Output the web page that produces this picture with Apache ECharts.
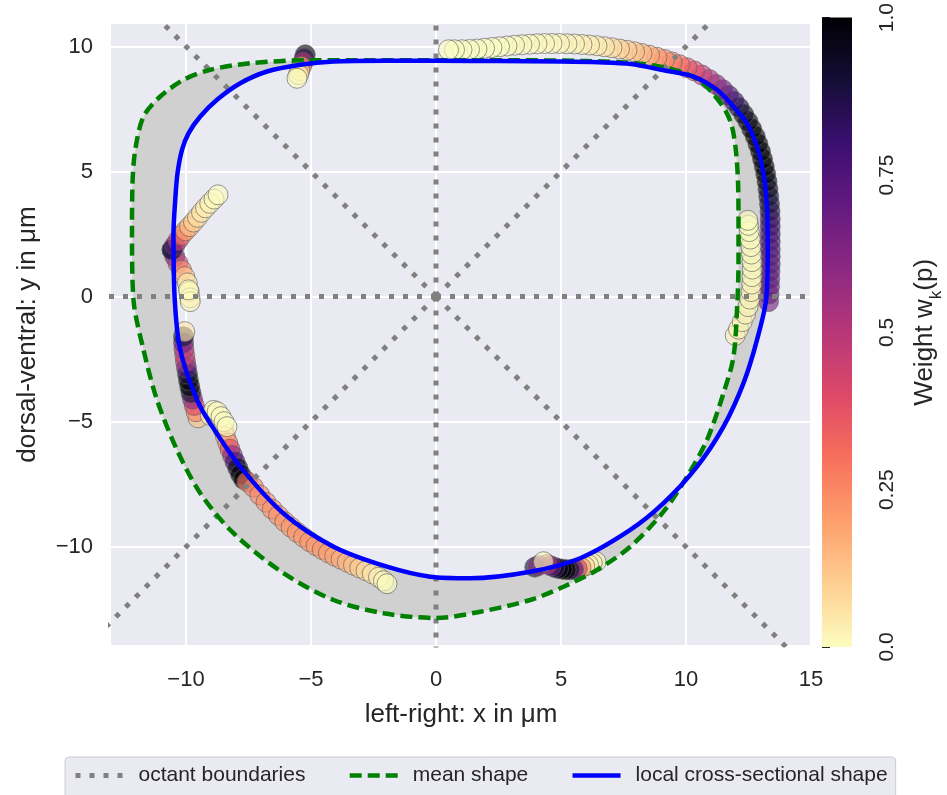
<!DOCTYPE html>
<html>
<head>
<meta charset="utf-8">
<title>local cross-sectional shape</title>
<script src="https://cdn.jsdelivr.net/npm/echarts@6/dist/echarts.min.js"></script>
<style>
    html, body { margin: 0; padding: 0; background: #fff; }
    #main { width: 947px; height: 795px; }
</style>
</head>
<body>
<div id="main"></div>
<script>
'use strict';

// tick positions
var xTicks = [-10, -5, 0, 5, 10, 15];
var yTicks = [-10, -5, 0, 5, 10];
var weightTicks = [0, 0.25, 0.5, 0.75, 1];

// octant boundaries: rays from the origin
var octantEnds = [[20, 0], [20, 20], [0, 20], [-20, 20], [-20, 0], [-20, -20], [0, -20], [20, -20]];

// mean shape (clockwise from top)
var meanX = [0, 3, 6, 8, 9.1, 10.0, 10.6, 11.1, 11.6, 11.84, 12.0, 12.08, 12.1, 12.1, 12.06, 11.9, 11.5, 10.84, 10.04, 9.1,
    7.77, 6.44, 5.1, 3.77, 1.77, 0, -2.1, -4.1, -6.1, -8.1, -9.43, -10.36, -11.16, -11.7, -12.1, -12.16, -12.14, -12.03,
    -11.7, -11.03, -10.1, -9.03, -7.43, -5.16, -2.5, 0];
var meanY = [9.45, 9.45, 9.42, 9.33, 9.17, 8.92, 8.6, 8.1, 7.4, 6.8, 5.8, 4.6, 3.2, 1.5, -0.1, -2.4, -3.86, -5.73, -7.2, -8.6,
    -10.0, -10.93, -11.6, -12.13, -12.6, -12.85, -12.66, -12.13, -11.06, -9.46, -7.86, -6.13, -4.13, -2.13, -0.13, 2.53, 4.53, 5.87,
    7.2, 8.0, 8.67, 9.07, 9.33, 9.45, 9.45, 9.45];

// local cross-sectional shape (clockwise from top)
var localX = [0, 2.5, 5, 6.5, 7.8, 9, 10.3, 11.24, 11.9, 12.44, 12.84, 13.1, 13.24, 13.27, 13.22, 12.84, 12.3, 11.5, 10.44, 9.1,
    7.77, 5.77, 3.77, 1.37, -0.23, -1.96, -4.1, -6.1, -7.83, -9.03, -9.56, -10.23, -10.45, -10.5, -10.43, -10.34, -10.16, -9.9,
    -9.43, -8.76, -7.83, -6.76, -5.43, -4.1, -2, 0];
var localY = [9.43, 9.42, 9.4, 9.37, 9.3, 9.07, 8.8, 8.27, 7.6, 6.93, 6.0, 4.93, 3.6, 2, 0, -1.73, -3.46, -5.2, -6.8, -8.26,
    -9.33, -10.46, -11.0, -11.26, -11.2, -10.8, -10.0, -8.67, -6.8, -5.07, -4.13, -2.13, -0.13, 2.53, 3.87, 4.93, 5.87, 6.53,
    7.2, 7.87, 8.53, 9.0, 9.27, 9.4, 9.43, 9.43];

// weighted points, one group per track, in drawing order
var arcX = [13.30, 13.32, 13.34, 13.35, 13.36, 13.37, 13.37, 13.37, 13.37, 13.37, 13.37, 13.37, 13.36, 13.34, 13.31, 13.28,
    13.24, 13.19, 13.13, 13.06, 12.98, 12.88, 12.77, 12.63, 12.48, 12.31, 12.13, 11.93, 11.71, 11.47, 11.21, 10.93, 10.64,
    10.34, 10.04, 9.74, 9.44, 9.14, 8.84, 8.54, 8.24, 7.94, 7.64, 7.34, 7.04, 6.74, 6.44, 6.14, 5.84, 5.54, 5.24, 4.94, 4.64,
    4.34, 4.04, 3.74, 3.44, 3.14, 2.84, 2.54, 2.24, 1.94, 1.64, 1.34, 1.04, 0.74, 0.50];
var arcY = [-0.20, 0.10, 0.40, 0.70, 1.00, 1.30, 1.60, 1.90, 2.20, 2.50, 2.80, 3.10, 3.40, 3.70, 4.00, 4.30, 4.60, 4.90,
    5.20, 5.50, 5.80, 6.10, 6.40, 6.70, 7.00, 7.28, 7.55, 7.80, 8.04, 8.27, 8.48, 8.68, 8.86, 9.02, 9.15, 9.27, 9.38, 9.48,
    9.57, 9.65, 9.72, 9.79, 9.85, 9.90, 9.95, 9.99, 10.03, 10.06, 10.08, 10.10, 10.11, 10.12, 10.12, 10.12, 10.11, 10.09,
    10.07, 10.05, 10.02, 9.99, 9.96, 9.93, 9.90, 9.88, 9.87, 9.87, 9.87];
var arcW = [0.66, 0.68, 0.70, 0.71, 0.72, 0.73, 0.74, 0.75, 0.76, 0.78, 0.80, 0.82, 0.85, 0.88, 0.90, 0.93, 0.96, 0.98,
    1, 1, 1, 1, 1, 1, 0.98, 0.95, 0.9, 0.83, 0.76, 0.68, 0.6, 0.53, 0.47, 0.41, 0.36, 0.31, 0.27, 0.24, 0.21, 0.18, 0.15,
    0.13, 0.11, 0.09, 0.07, 0.05, 0.04, 0.03, 0.03, 0.02, 0.02, 0.02, 0.01, 0.01, 0.01, 0.01, 0.01, 0.01, 0.01, 0, 0, 0,
    0, 0, 0, 0, 0];

var rightX = [11.97, 12.1, 12.25, 12.38, 12.48, 12.55, 12.6, 12.63, 12.64, 12.65, 12.64, 12.62, 12.6, 12.57, 12.53, 12.5, 12.47];
var rightY = [-1.55, -1.3, -1.0, -0.7, -0.4, -0.1, 0.2, 0.5, 0.8, 1.1, 1.4, 1.7, 2.0, 2.3, 2.6, 2.85, 3.05];
var rightW = [0.03, 0.02, 0.02, 0.02, 0.02, 0.02, 0.02, 0.02, 0.01, 0.01, 0.01, 0.01, 0.01, 0, 0, 0, 0];

var topLeftX = [-5.23, -5.27, -5.32, -5.38, -5.45, -5.5, -5.56];
var topLeftY = [9.67, 9.52, 9.37, 9.2, 9.03, 8.88, 8.73];
var topLeftW = [1, 0.85, 0.5, 0.2, 0.08, 0.03, 0];

var leftLowX = [-10.56, -10.45, -10.32, -10.18, -10.05, -9.95, -9.87, -9.84, -9.83, -9.9];
var leftLowY = [1.87, 1.6, 1.33, 1.06, 0.8, 0.55, 0.2, -0.05, -0.2, 0.27];
var leftLowW = [0.95, 0.7, 0.45, 0.25, 0.12, 0.05, 0.02, 0.02, 0.02, 0];

var leftUpX = [-10.56, -10.45, -10.32, -10.18, -10.02, -9.86, -9.7, -9.54, -9.38, -9.22, -9.05, -8.88, -8.72];
var leftUpY = [1.87, 2.05, 2.25, 2.45, 2.63, 2.8, 2.98, 3.17, 3.37, 3.55, 3.73, 3.9, 4.07];
var leftUpW = [0.9, 0.7, 0.45, 0.3, 0.2, 0.14, 0.1, 0.07, 0.05, 0.03, 0.02, 0.01, 0];

var sideX = [-9.52, -9.6, -9.67, -9.74, -9.8, -9.85, -9.9, -9.94, -9.98, -10.02, -10.05, -10.08, -10.1, -10.1, -10.05];
var sideY = [-4.85, -4.6, -4.35, -4.1, -3.85, -3.6, -3.35, -3.1, -2.85, -2.6, -2.35, -2.1, -1.85, -1.6, -1.4];
var sideW = [0.12, 0.25, 0.4, 0.6, 0.9, 1, 1, 0.9, 0.75, 0.55, 0.45, 0.5, 0.7, 0.9, 0.05];

var bendX = [-8.5, -8.42, -8.33, -8.24, -8.14, -8.04, -7.93, -7.82, -7.7];
var bendY = [-5.35, -5.6, -5.85, -6.1, -6.35, -6.6, -6.85, -7.1, -7.3];
var bendW = [0.08, 0.15, 0.25, 0.4, 0.6, 0.8, 0.95, 1, 1];

var lowerX = [-7.55, -7.3, -7.05, -6.8, -6.55, -6.3, -6.05, -5.8, -5.55, -5.3, -5.05, -4.8, -4.55, -4.3, -4.05, -3.8, -3.55,
    -3.3, -3.05, -2.8, -2.55, -2.3, -2.1, -1.96];
var lowerY = [-7.4, -7.62, -7.93, -8.22, -8.5, -8.75, -9.0, -9.22, -9.43, -9.62, -9.8, -9.96, -10.11, -10.25, -10.38, -10.5,
    -10.62, -10.74, -10.85, -10.96, -11.08, -11.22, -11.36, -11.48];
var lowerW = [0.29, 0.27, 0.25, 0.24, 0.23, 0.23, 0.22, 0.22, 0.22, 0.22, 0.22, 0.21, 0.21, 0.2, 0.19, 0.17, 0.15, 0.13, 0.1,
    0.08, 0.05, 0.03, 0.01, 0];

var clusterX = [-9.03, -8.9, -8.75, -8.6, -8.48, -8.36];
var clusterY = [-4.75, -4.55, -4.6, -4.8, -5.0, -5.2];
var clusterW = [0.02, 0.01, 0.01, 0, 0, 0];

var bottomX = [6.4, 6.25, 6.1, 5.95, 5.8, 5.65, 5.5, 5.35, 5.2, 5.05, 4.9, 4.75, 4.6, 4.45, 3.95, 4.1, 4.3];
var bottomY = [-10.6, -10.66, -10.72, -10.78, -10.83, -10.87, -10.9, -10.92, -10.92, -10.9, -10.87, -10.83, -10.77, -10.7,
    -10.82, -10.75, -10.6];
var bottomW = [0, 0.02, 0.04, 0.08, 0.2, 0.45, 0.75, 0.9, 1, 1, 0.95, 0.85, 0.7, 0.5, 0.9, 0.6, 0];

// magma_r, weight 0 -> 1
var magmaR = ['#fcfdbf', '#fecf92', '#fe9f6d', '#f7705c', '#de4968', '#b73779', '#8c2981', '#641a80', '#3b0f70', '#140e36', '#000004'];

var FONT = "'Liberation Sans', Arial, sans-serif";
var INK = '#262626';

function zip3(xs, ys, ws) {
    return xs.map(function(x, i) { return [x, ys[i], ws[i]]; });
}

function minusFmt(v) {
    return v < 0 ? '\u2212' + (-v) : String(v);
}

var pointData = [].concat(
    zip3(arcX, arcY, arcW),
    zip3(rightX, rightY, rightW),
    zip3(topLeftX, topLeftY, topLeftW),
    zip3(leftLowX, leftLowY, leftLowW),
    zip3(leftUpX, leftUpY, leftUpW),
    zip3(sideX, sideY, sideW),
    zip3(bendX, bendY, bendW),
    zip3(lowerX, lowerY, lowerW),
    zip3(clusterX, clusterY, clusterW),
    zip3(bottomX, bottomY, bottomW)
);

var series = [];

octantEnds.forEach(function(end) {
    series.push({
        type: 'line',
        name: 'octant boundaries',
        data: [[0, 0], end],
        symbol: 'none',
        silent: true,
        lineStyle: {color: '#808080', width: 5, type: [5, 9], cap: 'butt'}
    });
});

// grey band between mean and local shape
series.push({
    type: 'custom',
    name: 'band',
    silent: true,
    data: [[0, 0]],
    renderItem: function(params, api) {
        var pts = [];
        var i;
        for (i = 0; i < meanX.length - 1; i++) {
            pts.push(api.coord([meanX[i], meanY[i]]));
        }
        for (i = localX.length - 2; i >= 0; i--) {
            pts.push(api.coord([localX[i], localY[i]]));
        }
        return {
            type: 'polygon',
            shape: {points: pts, smooth: 0.3},
            style: {fill: '#d0d0d0', stroke: null}
        };
    }
});

var scatterIndex = series.length;
series.push({
    type: 'scatter',
    name: 'weights',
    data: pointData,
    symbol: 'circle',
    symbolSize: 20,
    silent: true,
    itemStyle: {opacity: 0.62, borderColor: '#5a5a5a', borderWidth: 1}
});

series.push({
    type: 'line',
    name: 'mean shape',
    data: meanX.map(function(x, i) { return [x, meanY[i]]; }),
    symbol: 'none',
    smooth: 0.3,
    silent: true,
    lineStyle: {color: '#008000', width: 4.5, type: [12, 6], cap: 'butt'}
});

series.push({
    type: 'line',
    name: 'local cross-sectional shape',
    data: localX.map(function(x, i) { return [x, localY[i]]; }),
    symbol: 'none',
    smooth: 0.3,
    silent: true,
    lineStyle: {color: '#0000ff', width: 4.5}
});

// colour bar
series.push({
    type: 'custom',
    name: 'colorbar',
    xAxisIndex: 1,
    yAxisIndex: 1,
    silent: true,
    data: [[0, 0]],
    renderItem: function(params, api) {
        var p0 = api.coord([0, 1]);
        var p1 = api.coord([1, 0]);
        var stops = magmaR.map(function(c, i) { return {offset: i / (magmaR.length - 1), color: c}; });
        return {
            type: 'rect',
            shape: {x: p0[0], y: p0[1], width: p1[0] - p0[0], height: p1[1] - p0[1]},
            style: {fill: new echarts.graphic.LinearGradient(0, 1, 0, 0, stops)}
        };
    }
});

var chart = echarts.init(document.getElementById('main'), null, {renderer: 'canvas'});

chart.setOption({
    animation: false,
    backgroundColor: '#ffffff',
    textStyle: {fontFamily: FONT, color: INK},
    grid: [
        {left: 111, top: 24, width: 700, height: 621, show: true, backgroundColor: '#eaeaf2', borderWidth: 0},
        {left: 822, top: 17, width: 30, height: 630, show: false}
    ],
    xAxis: [{
        gridIndex: 0,
        type: 'value',
        min: -13,
        max: 15,
        axisLine: {show: false},
        axisTick: {show: false, customValues: xTicks},
        axisLabel: {customValues: xTicks, formatter: minusFmt, fontSize: 22, color: INK, margin: 24, fontFamily: FONT},
        splitLine: {show: true, lineStyle: {color: '#ffffff', width: 2}},
        name: 'left-right: x in μm',
        nameLocation: 'middle',
        nameGap: 57,
        nameTextStyle: {fontSize: 26, color: INK, fontFamily: FONT}
    }, {
        gridIndex: 1,
        type: 'value',
        min: 0,
        max: 1,
        show: false
    }],
    yAxis: [{
        gridIndex: 0,
        type: 'value',
        min: -13.93,
        max: 10.9,
        axisLine: {show: false},
        axisTick: {show: false, customValues: yTicks},
        axisLabel: {customValues: yTicks, formatter: minusFmt, fontSize: 22, color: INK, margin: 18, fontFamily: FONT},
        splitLine: {show: true, lineStyle: {color: '#ffffff', width: 2}},
        name: 'dorsal-ventral: y in μm',
        nameLocation: 'middle',
        nameGap: 70,
        nameRotate: 90,
        nameTextStyle: {fontSize: 26, color: INK, fontFamily: FONT}
    }, {
        gridIndex: 1,
        type: 'value',
        position: 'right',
        min: 0,
        max: 1,
        axisLine: {show: false},
        axisTick: {show: true, length: 8, customValues: weightTicks, lineStyle: {color: INK, width: 2}},
        axisLabel: {
            customValues: weightTicks,
            rotate: 90,
            margin: 25,
            fontSize: 21,
            color: INK,
            fontFamily: FONT,
            formatter: function(v) { return v === 0 || v === 1 ? v.toFixed(1) : String(v); }
        },
        splitLine: {show: false},
        name: 'Weight w{sub|k}(p)',
        nameLocation: 'middle',
        nameGap: 60,
        nameRotate: 90,
        nameTextStyle: {
            fontSize: 26,
            color: INK,
            fontFamily: FONT,
            rich: {sub: {fontSize: 17, color: INK, fontFamily: FONT, verticalAlign: 'bottom', padding: [0, 0, -7, 0]}}
        }
    }],
    visualMap: {
        type: 'continuous',
        show: false,
        min: 0,
        max: 1,
        dimension: 2,
        seriesIndex: scatterIndex,
        inRange: {color: magmaR}
    },
    legend: {
        data: ['octant boundaries', 'mean shape', 'local cross-sectional shape'],
        left: 65,
        top: 757,
        itemWidth: 48,
        itemHeight: 14,
        itemGap: 42,
        padding: [8, 8, 14, 8],
        backgroundColor: '#eaeaf2',
        borderColor: '#cccccc',
        borderWidth: 1,
        borderRadius: 4,
        itemStyle: {opacity: 0, borderWidth: 0},
        lineStyle: {width: 'inherit'},
        textStyle: {fontSize: 21, color: INK, fontFamily: FONT, padding: [0, 0, 0, 10]}
    },
    series: series
});

window.addEventListener('resize', function() {
    chart.resize();
});
</script>
</body>
</html>
